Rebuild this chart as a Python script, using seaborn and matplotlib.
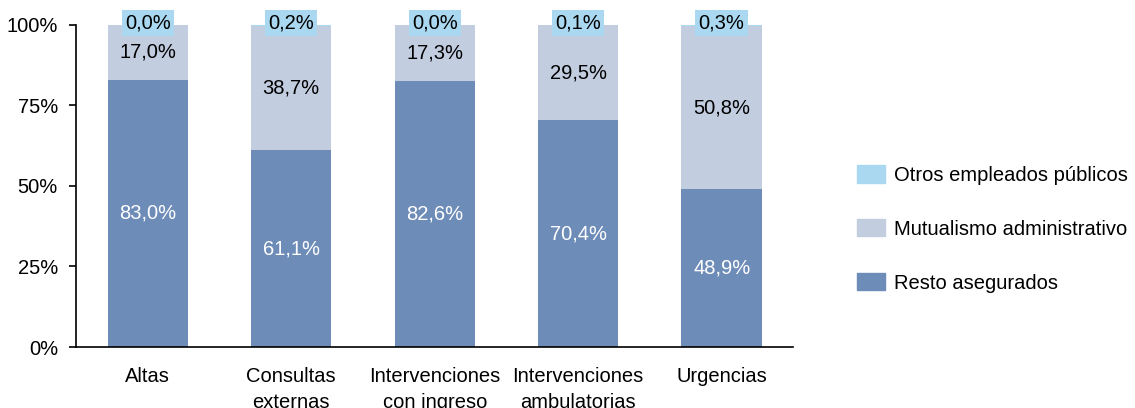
import pandas as pd
import matplotlib
matplotlib.use('Agg')
import matplotlib.pyplot as plt
import matplotlib.patches as mpatches
import seaborn as sns

# Datos
categorias = ['Altas', 'Consultas\nexternas', 'Intervenciones\ncon ingreso',
              'Intervenciones\nambulatorias', 'Urgencias']
resto = [83.0, 61.1, 82.6, 70.4, 48.9]
mutualismo = [17.0, 38.7, 17.3, 29.5, 50.8]
otros = [0.0, 0.2, 0.0, 0.1, 0.3]
series = ['Otros empleados públicos', 'Mutualismo administrativo', 'Resto asegurados']

col_resto = '#6E8CB8'
col_mutua = '#C2CDE0'
col_otros = '#AAD8F0'

df = pd.DataFrame({'categoria': categorias, 'resto': resto,
                   'mutualismo': mutualismo, 'otros': otros})
df['cum_mutua'] = df['resto'] + df['mutualismo']
df['cum_total'] = df['cum_mutua'] + df['otros']

sns.set_style('white')
plt.rcParams['font.family'] = ['Liberation Sans', 'DejaVu Sans']
plt.rcParams['text.color'] = 'black'
fs = 14.5

fig = plt.figure(figsize=(11.35, 4.08), dpi=100)
ax = fig.add_axes([0.067, 0.1495, 0.632, 0.7895])

# barras apiladas (acumuladas, de mayor a menor)
for col, c in [('cum_total', col_otros), ('cum_mutua', col_mutua), ('resto', col_resto)]:
    sns.barplot(data=df, x='categoria', y=col, color=c, width=0.56,
                saturation=1, linewidth=0, edgecolor='none', ax=ax)

def fmt(v):
    return f'{v:.1f}%'.replace('.', ',')

for i in range(len(categorias)):
    ax.text(i, resto[i] / 2, fmt(resto[i]), ha='center', va='center',
            color='white', fontsize=fs)
    ax.text(i, resto[i] + mutualismo[i] / 2, fmt(mutualismo[i]), ha='center',
            va='center', color='black', fontsize=fs)
    ax.text(i, 100.6, fmt(otros[i]), ha='center', va='center', color='black',
            fontsize=fs, bbox=dict(boxstyle='square,pad=0.16', fc=col_otros, ec='none'))

ax.set_ylim(0, 100)
ax.set_xlim(-0.5, 4.5)
ax.set_yticks([0, 25, 50, 75, 100])
ax.set_yticklabels(['0%', '25%', '50%', '75%', '100%'])
ax.set_xlabel('')
ax.set_ylabel('')
ax.tick_params(axis='y', left=True, length=5, width=1.2, pad=8, labelsize=fs,
               colors='black')
ax.tick_params(axis='x', bottom=False, pad=11, labelsize=fs, colors='black')
for t in ax.get_xticklabels():
    t.set_linespacing(1.45)
sns.despine(ax=ax)
for s in ['left', 'bottom']:
    ax.spines[s].set_color('black')
    ax.spines[s].set_linewidth(1.2)

handles = [mpatches.Patch(color=col_otros), mpatches.Patch(color=col_mutua),
           mpatches.Patch(color=col_resto)]
leg = fig.legend(handles, series, loc='center left', bbox_to_anchor=(0.748, 0.439),
                 frameon=False, fontsize=fs, handlelength=1.4, handleheight=0.95,
                 handletextpad=0.45, labelspacing=1.7, borderaxespad=0)
for t in leg.get_texts():
    t.set_color('black')

fig.savefig('out.png', dpi=100)
